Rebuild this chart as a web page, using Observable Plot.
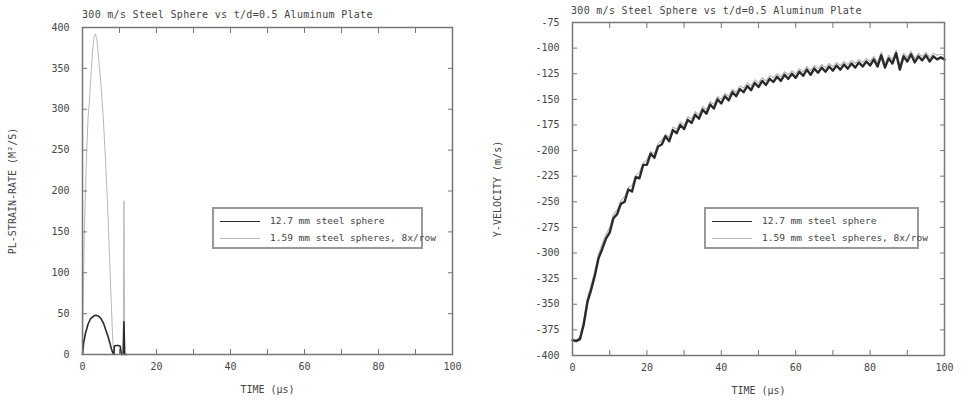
<!DOCTYPE html>
<html>
<head>
<meta charset="utf-8">
<script src="https://cdn.jsdelivr.net/npm/d3@7"></script>
<script src="https://cdn.jsdelivr.net/npm/@observablehq/plot@0.6"></script>
<style>
  html, body { margin: 0; padding: 0; background: #fff; }
  #wrap { position: relative; width: 969px; height: 408px; overflow: hidden; font-family: "DejaVu Sans Mono", monospace; color: #444; }
  .panel { position: absolute; top: 0; }
  .title { position: absolute; font-size: 10px; white-space: nowrap; color: #444; letter-spacing: 0.3px; }
  .legend { position: absolute; border: 2px solid #999; background: #fff; box-sizing: border-box; font-size: 9.5px; color: #444; }
  .legend .row { position: absolute; left: 0; white-space: nowrap; }
  .legend .sw { position: absolute; width: 40px; height: 0; }
  .legend .tx { position: absolute; left: 56px; top: -6px; }
</style>
</head>
<body>
<div id="wrap"></div>
<script>
// ---------- data ----------
const titleText = "300 m/s Steel Sphere vs t/d=0.5 Aluminum Plate";
const seriesNames = ["12.7 mm steel sphere", "1.59 mm steel spheres, 8x/row"];

// Left panel: plastic strain rate
const leftTime12 = [0, 0.3, 0.8, 1.5, 2.2, 3, 3.6, 4.3, 5, 5.7, 6.3, 6.9, 7.4, 7.8, 8.2, 8.5, 8.6, 9.0, 9.6, 10.2, 10.5, 10.6, 11.0, 11.2, 11.4, 11.6, 12];
const leftVal12  = [0, 14, 26, 37, 44, 47, 48, 47, 44, 38, 30, 22, 14, 7, 2, 0, 10, 11, 11, 10, 0, 0, 0, 40, 0, 0, 0];
const leftTime159 = [0, 0.2, 0.5, 1.0, 1.5, 1.8, 2.2, 2.7, 3.1, 3.5, 3.9, 4.4, 5.0, 5.6, 6.2, 6.8, 7.3, 7.8, 8.2, 8.5, 9.5, 10.8, 11.0, 11.2, 11.4, 12];
const leftVal159  = [0, 70, 150, 230, 290, 305, 335, 370, 388, 392, 385, 360, 330, 290, 240, 180, 120, 60, 15, 0, 0, 0, 0, 188, 0, 0];

// Right panel: Y-velocity (sampled every 1 µs, 0..100)
const rightTime = d3.range(0, 101);
const rightVal12 = [
  -385,-386,-384,-370,-348,-336,-322,-305,-296,-286,-280,
  -266,-262,-252,-250,-238,-240,-226,-227,-214,-214,
  -203,-207,-196,-194,-186,-191,-180,-183,-175,-179,
  -170,-173,-165,-169,-160,-164,-155,-159,-150,-154,
  -147,-151,-143,-147,-140,-143,-137,-141,-134,-138,
  -132,-136,-130,-133,-128,-132,-126,-130,-125,-129,
  -123,-127,-121,-126,-120,-124,-119,-123,-118,-122,
  -117,-121,-116,-120,-115,-119,-114,-118,-113,-117,
  -111,-118,-107,-119,-110,-115,-105,-121,-108,-113,
  -106,-114,-108,-112,-107,-113,-108,-111,-109,-111];
const rightVal159 = [
  -384,-385,-382,-366,-344,-331,-318,-301,-291,-282,-275,
  -262,-258,-249,-245,-236,-234,-224,-221,-212,-209,
  -201,-203,-193,-190,-184,-187,-177,-179,-172,-175,
  -167,-169,-162,-165,-157,-160,-152,-155,-147,-150,
  -144,-147,-140,-143,-137,-139,-134,-137,-131,-134,
  -129,-132,-127,-129,-125,-128,-123,-126,-122,-125,
  -120,-123,-118,-122,-117,-120,-116,-119,-115,-118,
  -114,-117,-113,-116,-112,-115,-111,-114,-110,-113,
  -108,-114,-104,-115,-107,-111,-102,-117,-105,-109,
  -103,-110,-105,-108,-104,-109,-105,-107,-106,-107];

const leftYTicks = d3.range(0, 401, 50);
const rightYTicks = d3.range(-400, -74, 25);
const xTicks = d3.range(0, 101, 10);
const xLabelTicks = [0, 20, 40, 60, 80, 100];

const darkColor = "#2a2a2a";
const lightColor = "#b8b8b8";
const frameColor = "#777";
const textColor = "#444";

function toRows(ts, vs) { return ts.map((t, i) => ({t, v: vs[i]})); }

function panel({width, height, ml, mr, mt, mb, yDomain, yTicks, yLabel, data12, data159, w12, w159}) {
  const fmt = d => String(d);
  return Plot.plot({
    width, height, marginLeft: ml, marginRight: mr, marginTop: mt, marginBottom: mb,
    style: {fontFamily: "DejaVu Sans Mono, monospace", fontSize: "10px", color: textColor, background: "#fff"},
    x: {domain: [0, 100]},
    y: {domain: yDomain},
    marks: [
      Plot.line(data159, {x: "t", y: "v", stroke: lightColor, strokeWidth: w159}),
      Plot.line(data12, {x: "t", y: "v", stroke: darkColor, strokeWidth: w12}),
      Plot.frame({stroke: frameColor, strokeWidth: 1.5}),
      // inward ticks on all four sides
      Plot.axisX({ticks: xTicks, tickSize: -5, tickFormat: () => "", stroke: frameColor, label: null}),
      Plot.axisX({ticks: xTicks, anchor: "top", tickSize: -5, tickFormat: () => "", stroke: frameColor, label: null}),
      Plot.axisY({ticks: yTicks, tickSize: -5, tickFormat: () => "", stroke: frameColor, label: null}),
      Plot.axisY({ticks: yTicks, anchor: "right", tickSize: -5, tickFormat: () => "", stroke: frameColor, label: null}),
      // labels
      Plot.axisX({ticks: xLabelTicks, tickSize: 0, tickPadding: 8, tickFormat: fmt, fill: textColor,
        label: "TIME (μs)", labelAnchor: "center", labelArrow: "none", labelOffset: 38, fontSize: 10}),
      Plot.axisY({ticks: yTicks, tickSize: 0, tickPadding: 13, tickFormat: fmt, fill: textColor,
        label: yLabel, labelAnchor: "center", labelArrow: "none", labelOffset: ml - 8, fontSize: 10})
    ]
  });
}

const wrap = document.getElementById("wrap");

// Left panel
const leftDiv = document.createElement("div");
leftDiv.className = "panel"; leftDiv.style.left = "0px";
leftDiv.appendChild(panel({
  width: 485, height: 408, ml: 82, mr: 33, mt: 27, mb: 54,
  yDomain: [0, 400], yTicks: leftYTicks, yLabel: "PL-STRAIN-RATE (M²/S)",
  data12: toRows(leftTime12, leftVal12), data159: toRows(leftTime159, leftVal159),
  w12: 1.6, w159: 1
}));
wrap.appendChild(leftDiv);

// Right panel
const rightDiv = document.createElement("div");
rightDiv.className = "panel"; rightDiv.style.left = "485px";
rightDiv.appendChild(panel({
  width: 484, height: 408, ml: 87, mr: 25, mt: 22, mb: 53,
  yDomain: [-400, -75], yTicks: rightYTicks, yLabel: "Y-VELOCITY (m/s)",
  data12: toRows(rightTime, rightVal12), data159: toRows(rightTime, rightVal159),
  w12: 2.4, w159: 1.2
}));
wrap.appendChild(rightDiv);

// Titles
function addTitle(x, y) {
  const t = document.createElement("div");
  t.className = "title"; t.style.left = x + "px"; t.style.top = y + "px";
  t.textContent = titleText;
  wrap.appendChild(t);
}
addTitle(82, 9);
addTitle(571, 5);

// Legends
function addLegend(x, y, w, h) {
  const L = document.createElement("div");
  L.className = "legend";
  Object.assign(L.style, {left: x + "px", top: y + "px", width: w + "px", height: h + "px"});
  seriesNames.forEach((name, i) => {
    const row = document.createElement("div");
    row.className = "row"; row.style.top = (12 + i * 17) + "px";
    const sw = document.createElement("div");
    sw.className = "sw"; sw.style.left = "6px";
    sw.style.borderTop = (i === 0 ? "1.2px solid " + darkColor : "1px solid " + lightColor);
    const tx = document.createElement("div");
    tx.className = "tx"; tx.textContent = name;
    row.appendChild(sw); row.appendChild(tx);
    L.appendChild(row);
  });
  wrap.appendChild(L);
}
addLegend(212, 207, 211, 42);
addLegend(704, 207, 215, 42);
</script>
</body>
</html>
